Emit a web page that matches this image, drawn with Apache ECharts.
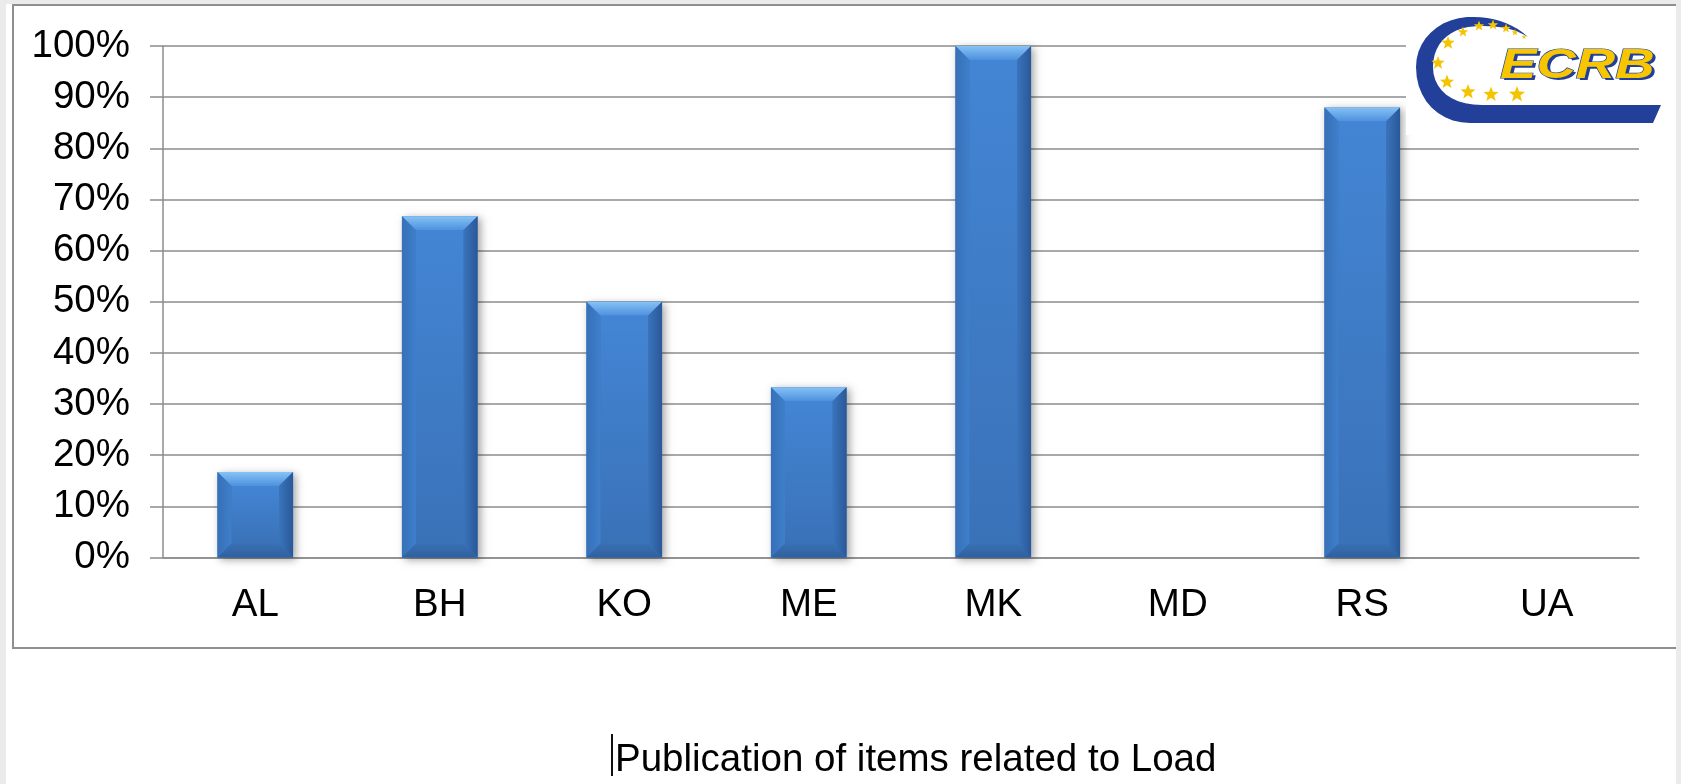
<!DOCTYPE html>
<html>
<head>
<meta charset="utf-8">
<script src="https://cdn.jsdelivr.net/npm/echarts@6/dist/echarts.min.js"></script>
<style>
html, body { margin: 0; padding: 0; background: #ebebeb; overflow: hidden; }
#sheet { position: absolute; left: 6px; top: 4px; width: 1670px; height: 780px; background: #fff; }
#frame { position: absolute; left: 12px; top: 4px; width: 1664px; height: 645px;
         border: 2px solid #8f8f8f; border-right: none; box-sizing: border-box; }
#chart { position: absolute; left: 0; top: 0; width: 1681px; height: 784px; }
</style>
</head>
<body>
<div id="sheet"></div>
<div id="frame"></div>
<div id="chart"></div>
<script>
// data
var categories = ['AL', 'BH', 'KO', 'ME', 'MK', 'MD', 'RS', 'UA'];
var shares = [16.7, 66.7, 50, 33.3, 100, 0, 88, 0];
var yMin = 0, yMax = 100, yStep = 10;
var captionText = 'Publication of items related to Load';

var FONT = 'Liberation Sans, Arial, sans-serif';
var GRID = '#8c8c8c';

// bevelled bar like the Excel one
function renderBar(params, api) {
  var idx = api.value(0), val = api.value(1);
  if (!val) return;
  var top = api.coord([idx, val]);
  var base = api.coord([idx, 0]);
  var w = api.size([1, 0])[0] * 0.41;
  var x0 = top[0] - w / 2, x1 = top[0] + w / 2, y0 = top[1], y1 = base[1];
  var h = y1 - y0;
  var b = Math.min(14, h / 3);
  function grad(x, y, x2, y2, c1, c2) {
    return { type: 'linear', x: x, y: y, x2: x2, y2: y2,
             colorStops: [{ offset: 0, color: c1 }, { offset: 1, color: c2 }] };
  }
  return {
    type: 'group',
    children: [
      { type: 'rect', shape: { x: x0, y: y0, width: w, height: h },
        style: { fill: '#3b74bb', shadowBlur: 8, shadowOffsetX: 3, shadowOffsetY: 2,
                 shadowColor: 'rgba(0,0,0,0.35)' } },
      { type: 'rect', shape: { x: x0 + b, y: y0 + b, width: w - 2 * b, height: h - 2 * b },
        style: { fill: grad(0, 0, 0, 1, '#4385d4', '#3a72b8') } },
      { type: 'polygon', shape: { points: [[x0, y0], [x1, y0], [x1 - b, y0 + b], [x0 + b, y0 + b]] },
        style: { fill: grad(0, 0, 0, 1, '#86c2f6', '#4d90dd') } },
      { type: 'polygon', shape: { points: [[x0, y0], [x0 + b, y0 + b], [x0 + b, y1 - b], [x0, y1]] },
        style: { fill: grad(0, 0, 1, 0, '#3670b8', '#3f7fcb') } },
      { type: 'polygon', shape: { points: [[x1, y0], [x1 - b, y0 + b], [x1 - b, y1 - b], [x1, y1]] },
        style: { fill: grad(0, 0, 1, 0, '#3a74bc', '#2a5898') } },
      { type: 'polygon', shape: { points: [[x0, y1], [x0 + b, y1 - b], [x1 - b, y1 - b], [x1, y1]] },
        style: { fill: grad(0, 0, 0, 1, '#3870b4', '#30609e') } }
    ]
  };
}

function star(cx, cy, r) {
  var pts = [];
  for (var i = 0; i < 10; i++) {
    var a = -Math.PI / 2 + i * Math.PI / 5;
    var rr = i % 2 ? r * 0.42 : r;
    pts.push([cx + rr * Math.cos(a), cy + rr * Math.sin(a)]);
  }
  return { type: 'polygon', z: 102, shape: { points: pts }, style: { fill: '#f5c400' } };
}

// sample a chain of cubic curves into polygon points (logo outline)
function curvePts(start, segs) {
  var pts = [start], p = start;
  segs.forEach(function (s) {
    if (s.length === 1) { pts.push(s[0]); p = s[0]; return; }
    for (var t = 0.1; t <= 1.001; t += 0.1) {
      var u = 1 - t;
      pts.push([
        u * u * u * p[0] + 3 * u * u * t * s[0][0] + 3 * u * t * t * s[1][0] + t * t * t * s[2][0],
        u * u * u * p[1] + 3 * u * u * t * s[0][1] + 3 * u * t * t * s[1][1] + t * t * t * s[2][1]
      ]);
    }
    p = s[2];
  });
  return pts;
}

var swoosh = curvePts([1528, 37], [
  [[1512, 22], [1490, 16], [1467, 17]],
  [[1438, 19], [1416, 40], [1416, 67]],
  [[1416, 101], [1440, 123], [1470, 123]],
  [[1653, 123]], [[1661, 105]], [[1482, 105]],
  [[1452, 105], [1433, 90], [1433, 67]],
  [[1433, 45], [1447, 31], [1468, 27]],
  [[1494, 24], [1514, 28], [1528, 37]]
]);

var logoStars = [
  [1463, 32, 5.5], [1479, 26, 5.5], [1493, 25, 5.5], [1506, 28.5, 5], [1515, 32.5, 3.5], [1524, 37, 2.5],
  [1448, 43, 7], [1438, 63, 7], [1447, 82, 7.5], [1468, 92, 8], [1491, 94.5, 8], [1517, 94.5, 8.5]
];

var logo = [
  { type: 'rect', z: 100, shape: { x: 1406, y: 7, width: 268, height: 128 }, style: { fill: '#fff' } },
  { type: 'polygon', z: 101, shape: { points: swoosh }, style: { fill: '#22409a' } },
  { type: 'text', z: 102, x: 1503, y: 47, scaleX: 1.27,
    style: { text: 'ECRB', x: 0, y: 0, verticalAlign: 'top', font: 'italic bold 43px ' + FONT,
             fill: '#22409a' } },
  { type: 'text', z: 103, x: 1500, y: 45, scaleX: 1.27,
    style: { text: 'ECRB', x: 0, y: 0, verticalAlign: 'top', font: 'italic bold 43px ' + FONT,
             fill: '#f7c600', stroke: '#22409a', lineWidth: 1.2 } }
];
logoStars.forEach(function (s) { logo.push(star(s[0], s[1], s[2])); });
// text cursor left in front of the caption
logo.push({ type: 'rect', z: 104, shape: { x: 611, y: 734, width: 2, height: 42 }, style: { fill: '#111' } });

var chart = echarts.init(document.getElementById('chart'));
chart.setOption({
  animation: false,
  backgroundColor: 'transparent',
  title: {
    text: captionText,
    left: 610, top: 736,
    textStyle: { fontFamily: FONT, fontSize: 38.5, fontWeight: 'normal', color: '#000' }
  },
  grid: { left: 163, right: 42, top: 46, bottom: 226.5 },
  xAxis: {
    type: 'category',
    data: categories,
    axisLine: { lineStyle: { color: GRID, width: 1.5 } },
    axisTick: { interval: 0, length: 10, lineStyle: { color: GRID, width: 1.5 } },
    axisLabel: { interval: 0, margin: 28, fontFamily: FONT, fontSize: 38.5, color: '#000' }
  },
  yAxis: {
    type: 'value',
    min: yMin, max: yMax, interval: yStep,
    axisLine: { show: true, lineStyle: { color: GRID, width: 1.5 } },
    axisTick: { show: true, length: 13, lineStyle: { color: GRID, width: 1.5 } },
    splitLine: { lineStyle: { color: GRID, width: 1.5 } },
    axisLabel: { margin: 33, padding: [5, 0, 0, 0], fontFamily: FONT, fontSize: 38.5, color: '#000',
                 formatter: '{value}%' }
  },
  series: [{
    type: 'custom',
    renderItem: renderBar,
    encode: { x: 0, y: 1 },
    data: shares.map(function (v, i) { return [i, v]; })
  }],
  graphic: { elements: logo }
});
</script>
</body>
</html>
